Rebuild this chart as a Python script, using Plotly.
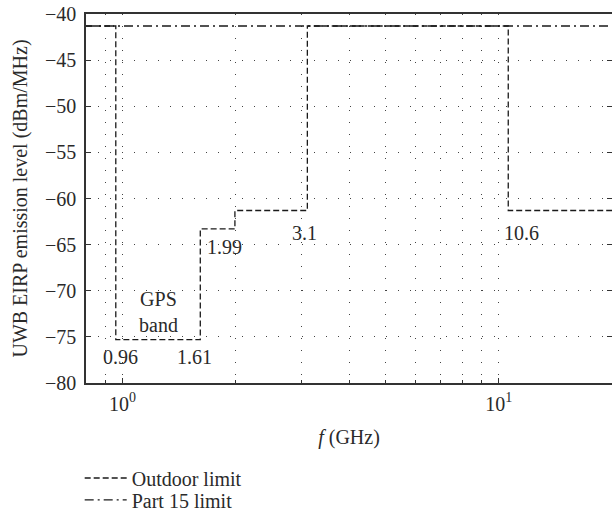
import numpy as np
import plotly.graph_objects as go

# Data
outdoor_f = [0.8, 0.96, 0.96, 1.61, 1.61, 1.99, 1.99, 3.1, 3.1, 10.6, 10.6, 20]
outdoor_db = [-41.3, -41.3, -75.3, -75.3, -63.3, -63.3, -61.3, -61.3, -41.3, -41.3, -61.3, -61.3]
part15_f = [0.8, 20]
part15_db = [-41.3, -41.3]

edge_labels = ["0.96", "1.61", "1.99", "3.1", "10.6"]
edge_f = [0.96, 1.61, 1.99, 3.1, 10.6]
edge_db = [-75.3, -75.3, -63.3, -61.3, -61.3]
label_dx = [5, -6, -10, -3, 13]
label_dy = [-17, -17, -18, -23, -23]

y_ticks = [-80, -75, -70, -65, -60, -55, -50, -45, -40]
x_major = [1, 10]
x_major_text = ["10<sup>0</sup>", "10<sup>1</sup>"]
x_minor = [0.8, 0.9, 2, 3, 4, 5, 6, 7, 8, 9, 20]

FONT = "Liberation Serif"
TXT = "#2a2a2a"
FS = 20
GRID_DASH = "1px,11px"

fig = go.Figure()
fig.add_trace(go.Scatter(x=outdoor_f, y=outdoor_db, mode="lines", name="Outdoor limit",
                         legend="legend",
                         line=dict(color="#1a1a1a", width=1.3, dash="6px,3px")))
fig.add_trace(go.Scatter(x=part15_f, y=part15_db, mode="lines", name="Part 15 limit",
                         legend="legend2",
                         line=dict(color="#1a1a1a", width=1.3, dash="9px,4px,2px,4px")))

for t, f, d, dx, dy in zip(edge_labels, edge_f, edge_db, label_dx, label_dy):
    fig.add_annotation(x=np.log10(f), y=d, text=t, showarrow=False,
                       xshift=dx, yshift=dy, font=dict(family=FONT, size=FS, color=TXT))

fig.add_annotation(x=np.log10(np.sqrt(0.96 * 1.61)), y=-72.3, text="GPS<br>band",
                   showarrow=False, font=dict(family=FONT, size=FS, color=TXT))

legend_common = dict(xanchor="left", yanchor="middle",
                     font=dict(family=FONT, size=FS, color=TXT),
                     bgcolor="rgba(0,0,0,0)", itemwidth=42)

fig.update_layout(
    width=612, height=514,
    margin=dict(l=86, r=0, t=14, b=131, autoexpand=False),
    paper_bgcolor="white", plot_bgcolor="white",
    font=dict(family=FONT, size=FS, color=TXT),
    showlegend=True,
    legend=dict(x=-0.012, y=-0.2575, **legend_common),
    legend2=dict(x=-0.012, y=-0.317, **legend_common),
)

fig.update_xaxes(
    type="log", range=[np.log10(0.8), np.log10(20)],
    tickmode="array", tickvals=x_major, ticktext=x_major_text,
    ticks="inside", ticklen=5, tickcolor="#333",
    showline=True, linecolor="#333", linewidth=1.5, mirror=True,
    showgrid=True, gridcolor="#444", griddash=GRID_DASH, gridwidth=1,
    minor=dict(tickvals=x_minor, ticks="inside", ticklen=3, tickcolor="#333",
               showgrid=True, gridcolor="#444", griddash=GRID_DASH, gridwidth=1),
    title=dict(text="<i>f</i> (GHz)", font=dict(family=FONT, size=FS, color=TXT), standoff=16),
    zeroline=False, automargin=False, ticklabelstandoff=2,
)
fig.update_yaxes(
    range=[-80, -40], tickmode="array", tickvals=y_ticks,
    ticks="inside", ticklen=5, tickcolor="#333",
    showline=True, linecolor="#333", linewidth=1.5, mirror="ticks",
    showgrid=True, gridcolor="#444", griddash=GRID_DASH, gridwidth=1,
    title=dict(text="UWB EIRP emission level (dBm/MHz)",
               font=dict(family=FONT, size=FS, color=TXT), standoff=12),
    zeroline=False, automargin=False, ticklabelstandoff=4,
)

fig.write_html("out.html")
